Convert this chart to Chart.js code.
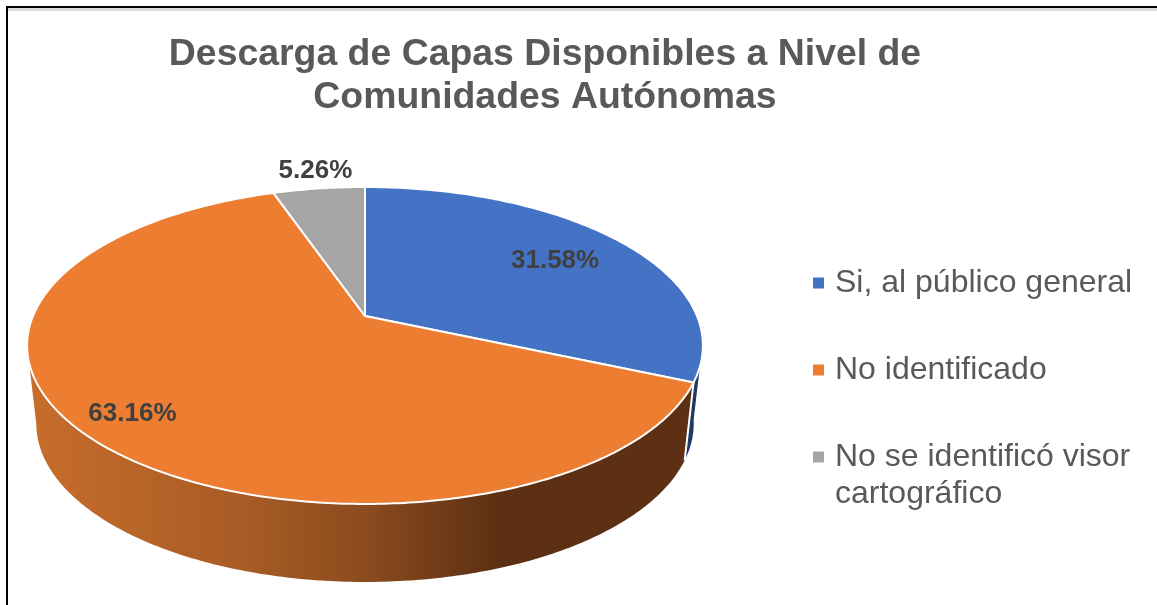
<!DOCTYPE html>
<html>
<head>
<meta charset="utf-8">
<title>Descarga de Capas</title>
<script src="https://cdn.jsdelivr.net/npm/chart.js@4"></script>
<style>
  html, body { margin: 0; padding: 0; background: #fff; }
  #wrap { position: relative; width: 1157px; height: 605px; overflow: hidden; }
  #frame { position: absolute; left: 6px; top: 6px; right: -5px; bottom: -5px; border-left: 2px solid #000; border-top: 2px solid #000; box-shadow: inset 0 3px 0 #ddd; }
  canvas { position: absolute; left: 0; top: 0; }
</style>
</head>
<body>
<div id="wrap">
  <canvas id="chart" width="1157" height="605"></canvas>
  <div id="frame"></div>
</div>
<script>
// ===== Data =====
const titleLines = ['Descarga de Capas Disponibles a Nivel de', 'Comunidades Autónomas'];
const categories = ['Si, al público general', 'No identificado', ['No se identificó visor', 'cartográfico']];
const values = [31.58, 63.16, 5.26];

// ===== Styles =====
const sliceColors = ['#4472c4', '#ed7d31', '#a5a5a5'];
const labelPlace = [{ r: 0.735, dx: 0, dy: 2 }, { r: 0.85, dx: 0, dy: -1 }, { r: 1.17, dx: 3, dy: 0 }];
const textGray = '#595959';
const labelGray = '#404040';

// ===== Tilted pie, Chart.js gives the angles, this maps them to the page =====
const tilt = { cx: 365, cy: 316, rx: 332, ry: 153, k: -0.186, depth: 78, baseRx: 323 };

function project(angle, r, base) {
  const u = Math.cos(angle) * r;
  const v = Math.sin(angle) * r;
  const d = 1 + tilt.k * v;
  return {
    x: tilt.cx + (base ? tilt.baseRx : tilt.rx) * u / d,
    y: tilt.cy + (base ? tilt.depth : 0) + tilt.ry * v / d
  };
}

function traceRim(ctx, from, to, base) {
  const steps = Math.max(2, Math.ceil(Math.abs(to - from) * 80));
  for (let i = 0; i <= steps; i++) {
    const p = project(from + (to - from) * i / steps, 1, base);
    ctx.lineTo(p.x, p.y);
  }
}

function drawWall(ctx, from, to, fill) {
  ctx.beginPath();
  traceRim(ctx, from, to, false);
  traceRim(ctx, to, from, true);
  ctx.closePath();
  ctx.fillStyle = fill;
  ctx.fill();
}

const pie3d = {
  id: 'pie3d',
  afterLayout(chart) {
    // title sits over the pie and not over the whole canvas
    chart.titleBlock.left = 0;
    chart.titleBlock.right = 1090;
    // legend column to the right of the pie
    const legend = chart.legend;
    const pad = legend.options.labels.padding;
    legend.left = 818 - pad;
    legend.right = 1157;
    legend.top = 267 - pad;
    legend.bottom = 605;
  },
  beforeDatasetDraw(chart) {
    const ctx = chart.ctx;
    const arcs = chart.getDatasetMeta(0).data;
    const sideEnd = Math.PI * 0.94;

    ctx.save();
    // side wall: orange slice
    const shade = ctx.createLinearGradient(27, 0, 700, 0);
    shade.addColorStop(0, '#c76d2c');
    shade.addColorStop(0.32, '#a85c25');
    shade.addColorStop(0.5, '#8b4c1e');
    shade.addColorStop(0.7, '#5d3013');
    shade.addColorStop(1, '#5d3013');
    drawWall(ctx, arcs[1].startAngle, sideEnd, shade);

    // side wall: sliver of the blue slice at the right
    drawWall(ctx, arcs[0].endAngle - 0.25, arcs[0].endAngle, '#1f3864');

    // white seam between the two walls
    const seamA = project(arcs[0].endAngle, 1, false);
    const seamB = project(arcs[0].endAngle, 1, true);
    ctx.beginPath();
    ctx.moveTo(seamA.x, seamA.y);
    ctx.lineTo(seamB.x, seamB.y);
    ctx.strokeStyle = '#fff';
    ctx.lineWidth = 2;
    ctx.stroke();

    // top face
    arcs.forEach((arc, i) => {
      ctx.beginPath();
      ctx.moveTo(tilt.cx, tilt.cy);
      traceRim(ctx, arc.startAngle, arc.endAngle, false);
      ctx.closePath();
      ctx.fillStyle = sliceColors[i];
      ctx.fill();
      ctx.strokeStyle = '#fff';
      ctx.lineWidth = 2;
      ctx.lineJoin = 'round';
      ctx.stroke();
    });

    // value labels
    ctx.font = 'bold 26px "Liberation Sans"';
    ctx.fillStyle = labelGray;
    ctx.textAlign = 'center';
    ctx.textBaseline = 'middle';
    arcs.forEach((arc, i) => {
      const p = project((arc.startAngle + arc.endAngle) / 2, labelPlace[i].r, false);
      ctx.fillText(values[i].toFixed(2) + '%', p.x + labelPlace[i].dx, p.y + labelPlace[i].dy);
    });
    ctx.restore();
    return false;
  }
};

new Chart(document.getElementById('chart'), {
  type: 'pie',
  plugins: [pie3d],
  data: {
    labels: categories,
    datasets: [{ data: values, backgroundColor: sliceColors, borderWidth: 0 }]
  },
  options: {
    responsive: false,
    animation: false,
    events: [],
    plugins: {
      tooltip: { enabled: false },
      title: {
        display: true,
        text: titleLines,
        color: textGray,
        font: { family: '"Liberation Sans"', size: 37.4, weight: 'bold', lineHeight: 1.147 },
        padding: { top: 33, bottom: 10 }
      },
      legend: {
        position: 'right',
        align: 'start',
        labels: {
          color: textGray,
          font: { family: '"Liberation Sans"', size: 32, lineHeight: 1.16 },
          usePointStyle: true,
          pointStyle: 'rect',
          boxWidth: 1,
          boxHeight: 11,
          padding: 55
        }
      }
    }
  }
});
</script>
</body>
</html>
